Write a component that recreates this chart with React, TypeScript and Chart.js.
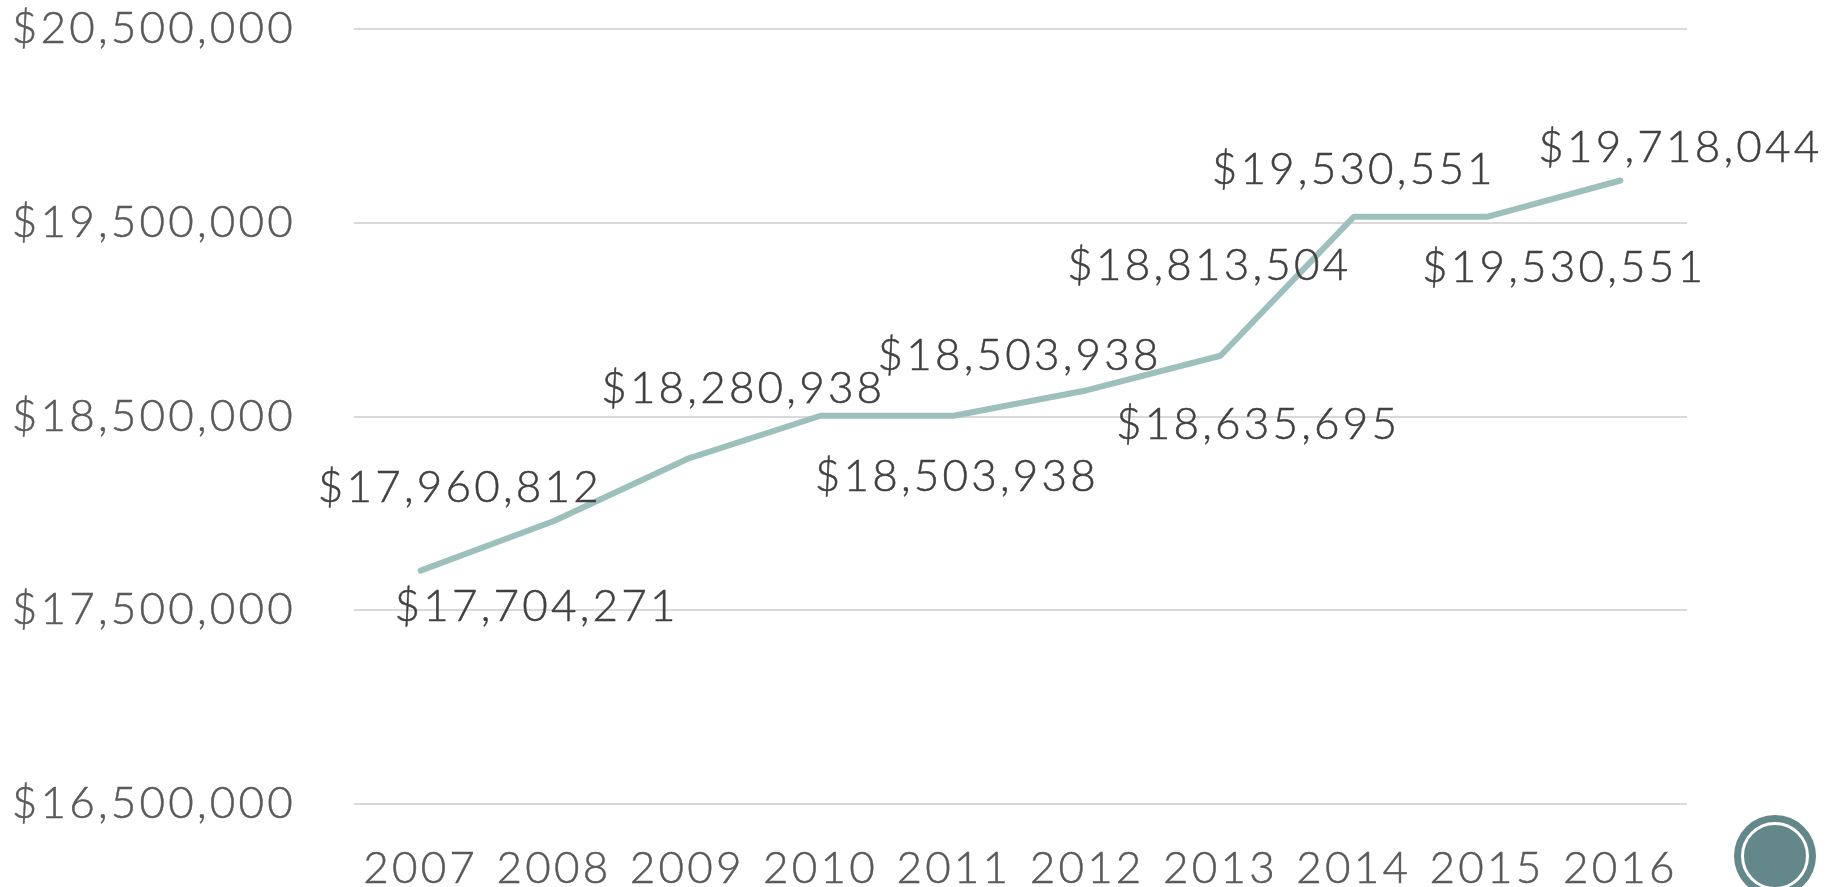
import React, { useEffect, useRef } from "react";
import { Chart, registerables } from "chart.js";

Chart.register(...registerables);

const years = ["2007", "2008", "2009", "2010", "2011", "2012", "2013", "2014", "2015", "2016"];
const amounts = [17704271, 17960812, 18280938, 18503938, 18503938, 18635695, 18813504, 19530551, 19530551, 19718044];
const labelDx = [116, -94, 56, 199, 3, 171, -11, 0, 77, 60];
const labelDy = [36, -33, -70, -60, 61, 35, -90, -47, 51, -33];

const FONT = "Lato";
const SPACING = "3.2px";
const SIZE = 44;
const WEIGHT = "300";
const STROKE = 0.5;

const spacingPlugin = {
  id: "spacing",
  beforeDraw(chart: any) {
    chart.ctx.letterSpacing = SPACING;
  },
};

const labelPlugin = {
  id: "valueLabels",
  afterDatasetsDraw(chart: any) {
    const { ctx, scales } = chart;
    ctx.save();
    ctx.letterSpacing = SPACING;
    ctx.font = `${WEIGHT} ${SIZE}px ${FONT}`;
    ctx.fillStyle = "#404040";
    ctx.strokeStyle = "#404040";
    ctx.lineWidth = STROKE;
    ctx.textAlign = "center";
    ctx.textBaseline = "middle";
    amounts.forEach((v, i) => {
      const text = "$" + v.toLocaleString("en-US");
      const x = scales.x.getPixelForValue(i) + labelDx[i];
      const y = scales.y.getPixelForValue(v) + labelDy[i];
      ctx.strokeText(text, x, y);
      ctx.fillText(text, x, y);
    });
    ctx.restore();
  },
};

export default function App() {
  const ref = useRef<HTMLCanvasElement>(null);
  useEffect(() => {
    const chart = new Chart(ref.current as HTMLCanvasElement, {
      type: "line",
      data: {
        labels: years,
        datasets: [
          {
            data: amounts,
            borderColor: "#9DC0BC",
            borderWidth: 6,
            borderCapStyle: "round",
            borderJoinStyle: "round",
            pointRadius: 0,
            tension: 0,
            fill: false,
          },
        ],
      },
      options: {
        animation: false,
        responsive: false,
        layout: { padding: { top: 29, right: 152, bottom: 0, left: 0 } },
        plugins: { legend: { display: false }, tooltip: { enabled: false } },
        scales: {
          x: {
            offset: true,
            grid: { display: false },
            border: { display: false },
            afterFit(s: any) {
              s.height = 83;
              s.paddingLeft = 0;
              s.paddingRight = 0;
            },
            ticks: {
              color: "#595959",
              textStrokeColor: "#595959",
              textStrokeWidth: STROKE,
              font: { family: FONT, size: SIZE, weight: WEIGHT },
              maxRotation: 0,
              autoSkip: false,
              padding: 30,
            },
          },
          y: {
            min: 16500000,
            max: 20500000,
            grid: { color: "#D9D9D9", lineWidth: 2, drawTicks: false },
            border: { display: false },
            afterFit(s: any) {
              s.width = 354;
              s.paddingTop = 0;
              s.paddingBottom = 0;
            },
            ticks: {
              stepSize: 1000000,
              color: "#595959",
              textStrokeColor: "#595959",
              textStrokeWidth: STROKE,
              padding: 58,
              font: { family: FONT, size: SIZE, weight: WEIGHT },
              callback: (v: any) => "$" + Number(v).toLocaleString("en-US"),
            },
          },
        },
      },
      plugins: [spacingPlugin, labelPlugin],
    } as any);
    return () => chart.destroy();
  }, []);
  return (
    <div style={{ position: "absolute", left: 0, top: 0, width: 1839, height: 887, overflow: "hidden", background: "#fff" }}>
      <canvas ref={ref} width={1839} height={887} style={{ display: "block" }} />
      <div
        style={{
          position: "absolute",
          left: 1734,
          top: 815,
          width: 82,
          height: 82,
          borderRadius: "50%",
          background: "#64878A",
          boxSizing: "border-box",
        }}
      >
        <div
          style={{
            position: "absolute",
            left: 7,
            top: 7,
            width: 68,
            height: 68,
            borderRadius: "50%",
            border: "3px solid #fff",
            boxSizing: "border-box",
          }}
        />
      </div>
    </div>
  );
}
